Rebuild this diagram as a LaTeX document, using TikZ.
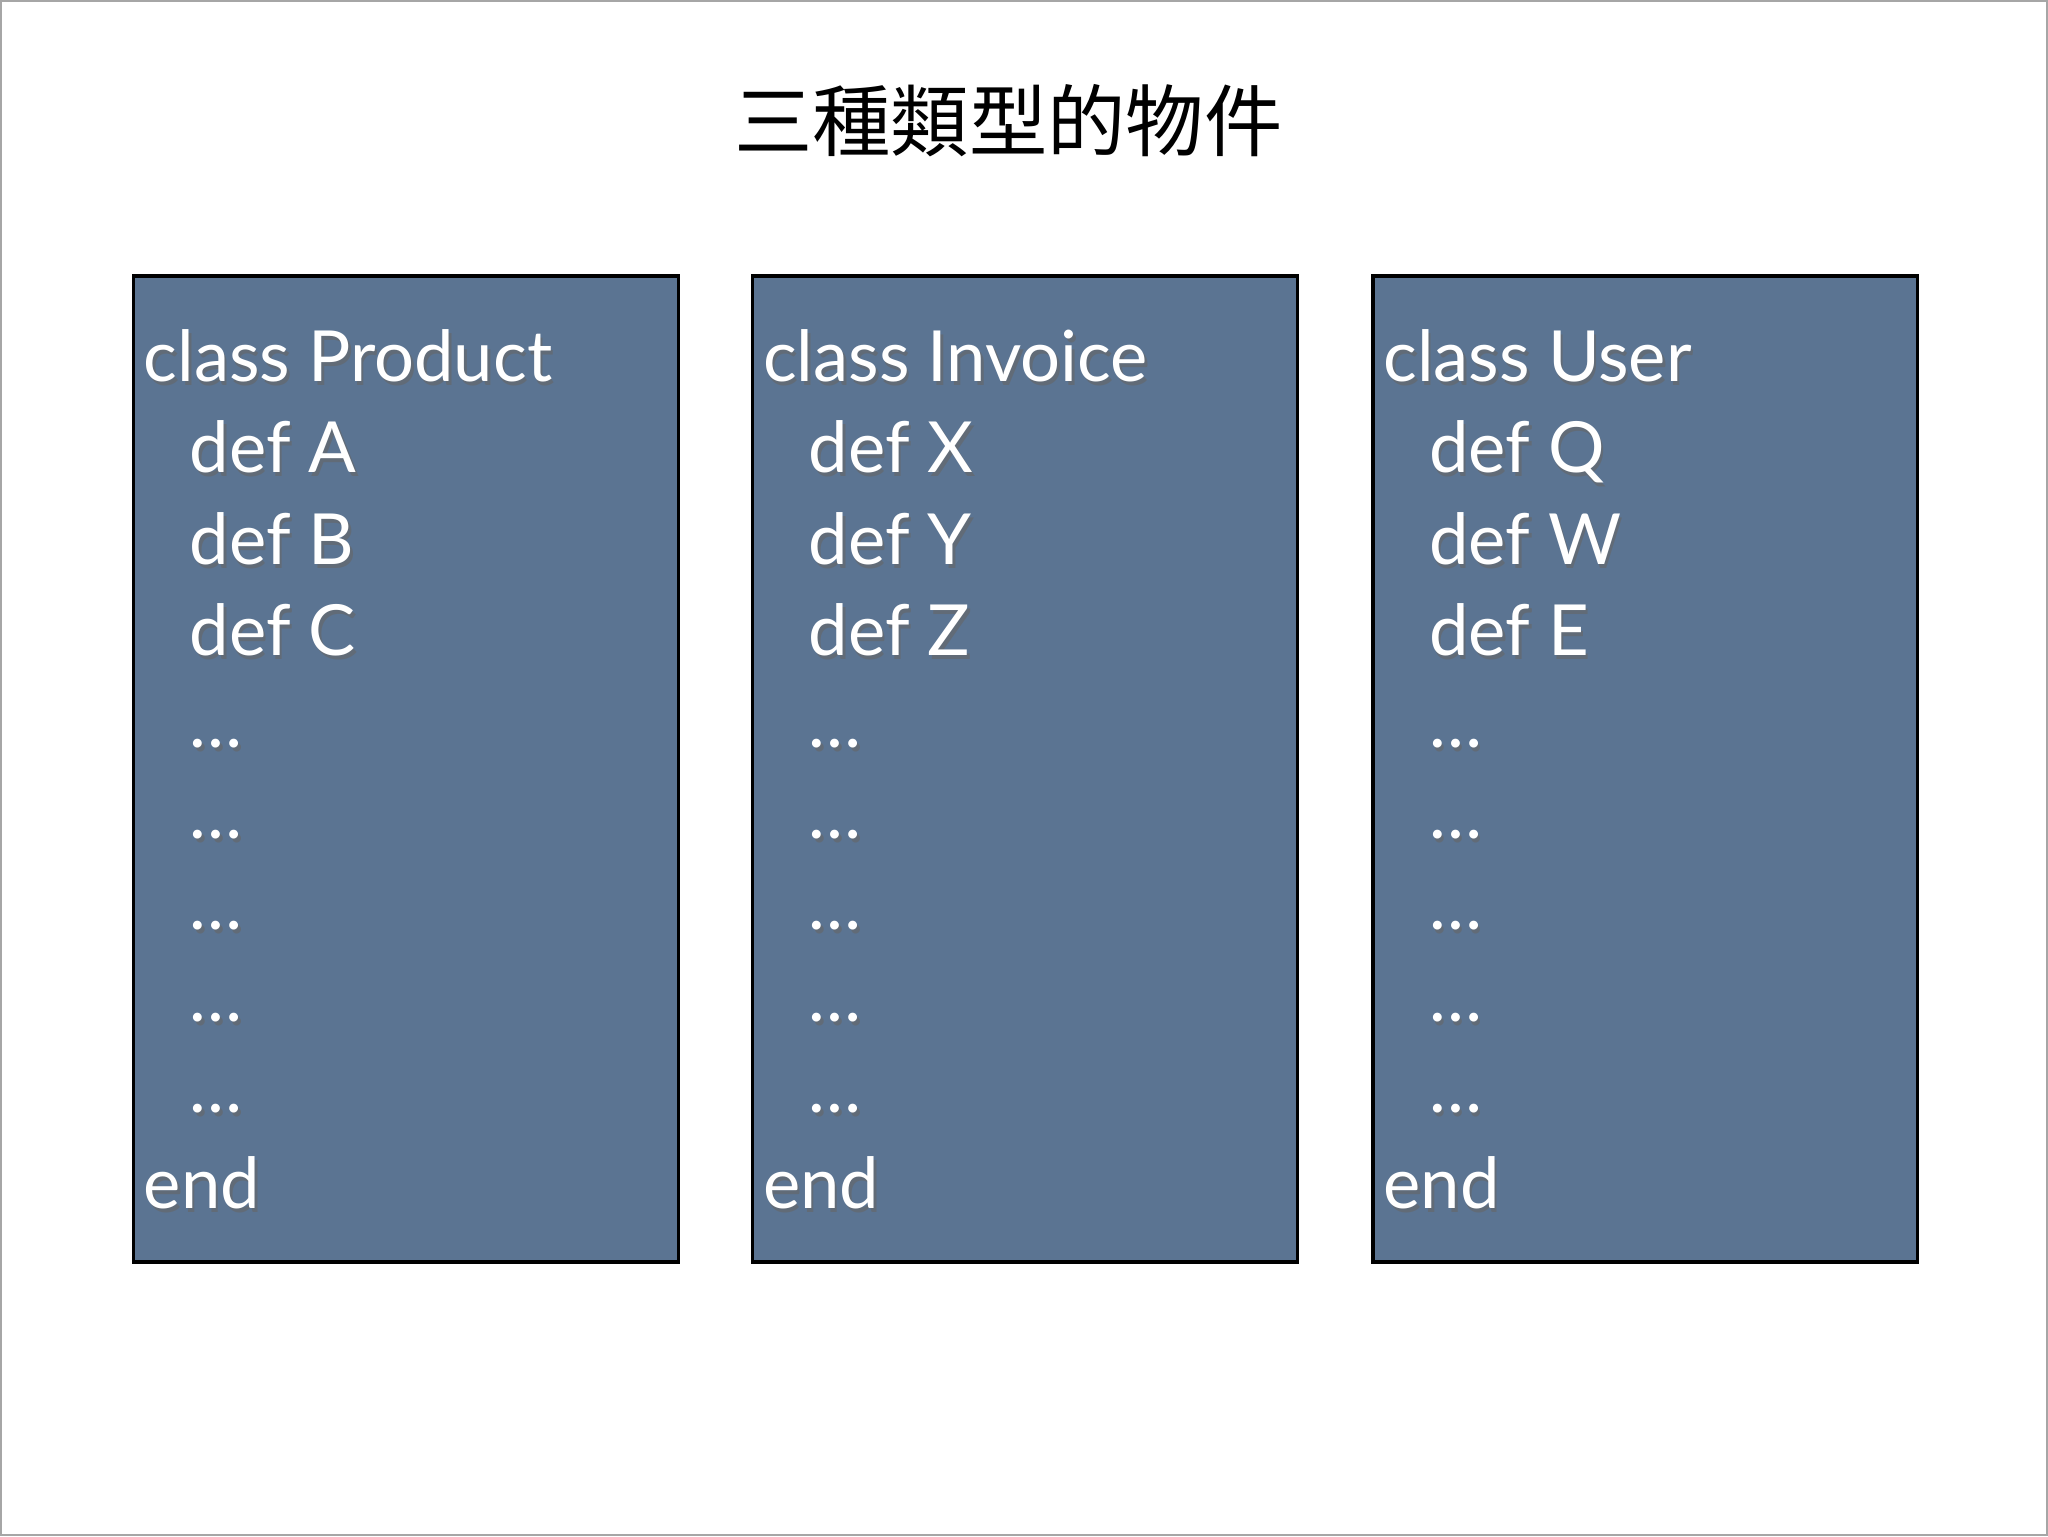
\documentclass[tikz,border=0pt]{standalone}
\usepackage{fontspec}
\setmainfont{Lato}
\newfontfamily\cjk{Noto Sans CJK TC}
\definecolor{boxblue}{HTML}{5B7492}
\begin{document}
\begin{tikzpicture}[x=1pt,y=-1pt,
  box/.style={draw=black,line width=2.5pt,fill=boxblue},
  code/.style={anchor=base west,inner sep=0pt,text=white,font=\fontsize{54}{54}\selectfont},
  shadow/.style={anchor=base west,inner sep=0pt,text=black!60,opacity=0.6,font=\fontsize{54}{54}\selectfont}]
\useasboundingbox (0,0) rectangle (1568,1176);
\draw[gray!70,line width=1.5pt] (0.75,0.75) rectangle (1567.25,1175.25);
\node[font=\cjk\fontsize{60}{60}\selectfont,anchor=base] (title) at (772,115) {三種類型的物件};
\foreach \i/\x/\cls/\a/\b/\c in {1/101/Product/A/B/C,2/575/Invoice/X/Y/Z,3/1050/User/Q/W/E}{
  \node[box,minimum width=417,minimum height=755,anchor=north west,inner sep=0pt] (box\i) at (\x,210) {};
  \foreach \t/\ind/\yy [count=\k] in {class \cls/9/292,def \a/44/362,def \b/44/432,def \c/44/502,…/44/572,…/44/642,…/44/712,…/44/782,…/44/852,end/9/925}{
    \node[shadow] (s\i-\k) at (\x+\ind+2,\yy+3) {\t};
    \node[code] (l\i-\k) at (\x+\ind,\yy) {\t};
  }
}
\end{tikzpicture}
\end{document}
